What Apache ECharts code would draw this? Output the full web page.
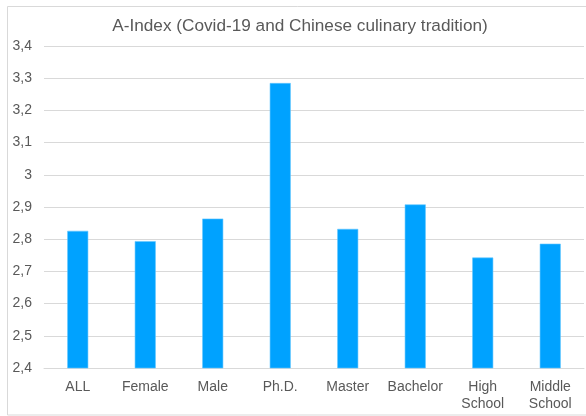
<!DOCTYPE html>
<html>
<head>
<meta charset="utf-8">
<script src="https://cdn.jsdelivr.net/npm/echarts@6/dist/echarts.min.js"></script>
<style>
html,body{margin:0;padding:0;background:#fff;}
#chart{width:586px;height:416px;}
</style>
</head>
<body>
<div id="chart"></div>
<script>
var categories = ['ALL', 'Female', 'Male', 'Ph.D.', 'Master', 'Bachelor', 'High\nSchool', 'Middle\nSchool'];
var values = [2.826, 2.794, 2.864, 3.285, 2.832, 2.908, 2.743, 2.786];
var titleText = 'A-Index (Covid-19 and Chinese culinary tradition)';

var chart = echarts.init(document.getElementById('chart'), null, {renderer: 'canvas'});
var font = '"Liberation Sans", Arial, Helvetica, sans-serif';
chart.setOption({
  animation: false,
  backgroundColor: '#ffffff',
  graphic: [{
    type: 'rect',
    shape: {x: 7.5, y: 6.5, width: 586, height: 408.5},
    style: {fill: 'none', stroke: '#d9d9d9', lineWidth: 1},
    silent: true
  }],
  title: {
    text: titleText,
    left: 295,
    top: 13,
    textAlign: 'center',
    textStyle: {fontFamily: font, fontSize: 17.2, fontWeight: 'normal', color: '#595959'}
  },
  grid: {left: 44, right: 2, top: 46, bottom: 48, containLabel: false},
  xAxis: {
    type: 'category',
    data: categories,
    axisLine: {show: true, lineStyle: {color: '#d9d9d9', width: 1}},
    axisTick: {show: false},
    axisLabel: {fontFamily: font, fontSize: 14, color: '#595959', margin: 11, lineHeight: 16.5, interval: 0}
  },
  yAxis: {
    type: 'value',
    min: 2.4,
    max: 3.4,
    interval: 0.1,
    axisLine: {show: false},
    axisTick: {show: false},
    splitLine: {lineStyle: {color: '#d9d9d9', width: 1}},
    axisLabel: {
      fontFamily: font, fontSize: 14, color: '#595959', margin: 12,
      formatter: function (v) {
        var s = (Math.round(v * 10) / 10).toString();
        return s.replace('.', ',');
      }
    }
  },
  series: [{
    type: 'bar',
    data: values,
    barWidth: 21,
    itemStyle: {color: '#00a2ff', borderColor: '#63c6ff', borderWidth: 0.6}
  }]
});
</script>
</body>
</html>
